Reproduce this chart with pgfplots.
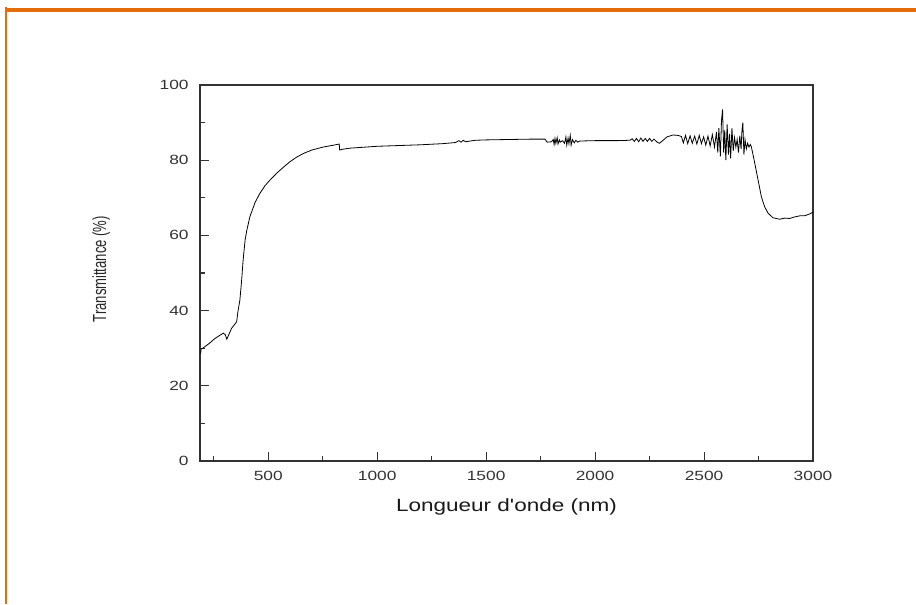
\documentclass[border=0pt]{standalone}
\usepackage{pgfplots}
\pgfplotsset{compat=1.18}
\usepackage{fontspec}
\setmainfont{Liberation Sans}
\newfontfamily\tickfont[FakeStretch=1.3]{Liberation Sans}
\newfontfamily\labfont[FakeStretch=1.27]{Liberation Sans}
\definecolor{brdorange}{RGB}{228,108,10}
\definecolor{axgray}{RGB}{50,50,50}
\begin{document}
\begin{tikzpicture}
\path[use as bounding box] (0pt,0pt) rectangle (687pt,453pt);
\fill[brdorange] (3.75pt,444pt) rectangle (687pt,447pt);
\fill[brdorange] (3.5pt,0pt) rectangle (5pt,447.75pt);
\begin{axis}[
  at={(150pt,107.25pt)}, anchor=south west,
  scale only axis, width=459.75pt, height=282pt,
  xmin=187, xmax=3000, ymin=0, ymax=100,
  xtick={500,1000,...,3000}, minor xtick={250,750,...,2750},
  ytick={0,20,...,100}, minor ytick={10,30,...,90},
  tick pos=left, tick align=inside,
  major tick length=6.5pt, minor tick length=3.75pt,
  axis line style={draw=axgray, line width=0.8pt},
  every tick/.style={draw=axgray, line width=0.8pt},
  scaled ticks=false,
  xticklabel style={font=\tickfont\fontsize{10}{12}\selectfont, text=axgray, yshift=-4pt},
  yticklabel style={font=\tickfont\fontsize{10}{12}\selectfont, text=axgray, xshift=-5pt},
  xticklabel={\pgfmathprintnumber[assume math mode=true,set thousands separator={}]{\tick}},
  yticklabel={\pgfmathprintnumber[assume math mode=true]{\tick}},
  xlabel={\labfont\fontsize{13.3}{16}\selectfont Longueur d'onde (nm)},
  xlabel style={at={(axis description cs:0.5,-0.1356)}, anchor=base, text=black!90},
  ylabel={\scalebox{1}[1.45]{\fontsize{9.8}{12}\selectfont Transmittance (\%)}},
  ylabel style={at={(axis description cs:-0.1533,0.51)}, anchor=base, text=black!85},
]
\addplot[black, line width=0.6pt] coordinates {
(190,28.5)(192,29.8)(200,30.0)(230,31.3)(256,32.6)(280,33.5)(294,34.0)(303,33.6)(310,32.4)
(332,35.3)(355,37.0)(361,39.7)(370,42.8)(378,48)(385,53.5)(394,58.8)(402,61.4)(416,65.0)
(440,68.8)(462,71.2)(485,73.2)(508,74.7)(540,76.6)(569,78.1)(600,79.6)(630,80.8)(662,81.8)
(700,82.7)(752,83.5)(800,84.0)(826,84.3)(828,82.7)(840,82.9)(875,83.2)(950,83.5)(1000,83.7)
(1100,83.9)(1200,84.1)(1300,84.4)(1360,84.7)(1375,85.2)(1385,84.8)(1395,85.3)(1405,84.9)
(1450,85.3)(1500,85.4)(1600,85.5)(1700,85.6)(1770,85.6)(1780,84.8)(1800,84.9)
(1808,85.5)(1812,84.2)(1816,85.8)(1820,84.5)(1826,86.0)(1830,84.3)(1836,85.4)(1840,84.8)
(1850,85.2)(1860,84.5)(1866,86.2)(1870,84.0)(1876,85.9)(1880,84.4)(1886,86.6)(1890,84.0)
(1896,85.5)(1904,84.6)(1912,85.3)(1920,84.8)(1930,85.1)(2000,85.2)(2100,85.2)(2160,85.3)
(2170,85.7)(2180,85.0)(2190,85.8)(2200,84.9)(2210,85.9)(2220,85.0)(2230,85.8)(2240,85.0)
(2250,85.8)(2260,85.0)(2270,85.6)(2285,84.8)(2296,84.5)(2310,85.2)(2330,86.2)(2357,86.7)
(2380,86.6)(2396,86.3)(2405,84.6)(2415,86.6)(2425,84.4)(2436,86.5)(2446,84.5)(2457,86.4)
(2467,84.3)(2478,86.6)(2488,84.4)(2498,86.2)(2508,84.0)(2518,86.4)(2528,83.8)(2538,86.8)
(2548,83.5)(2557,87.5)(2563,82.0)(2568,88.5)(2575,81.0)(2580,90.5)(2585,93.5)(2590,82.0)
(2595,88.0)(2600,80.0)(2606,89.5)(2612,81.5)(2617,87.0)(2622,80.5)(2628,88.5)(2634,82.5)
(2640,86.0)(2646,83.5)(2652,85.5)(2658,82.0)(2664,86.5)(2670,83.0)(2674,88.0)(2678,90.0)
(2683,81.5)(2688,85.5)(2694,83.0)(2700,84.5)(2706,83.5)(2712,84.2)(2717,83.6)(2730,80.0)
(2748,74.7)(2763,70.3)(2778,67.6)(2794,65.9)(2816,64.7)(2847,64.3)(2870,64.6)(2893,64.5)
(2915,64.9)(2939,65.2)(2960,65.2)(2985,65.7)(3000,66.2)
};
\end{axis}
\end{tikzpicture}
\end{document}
